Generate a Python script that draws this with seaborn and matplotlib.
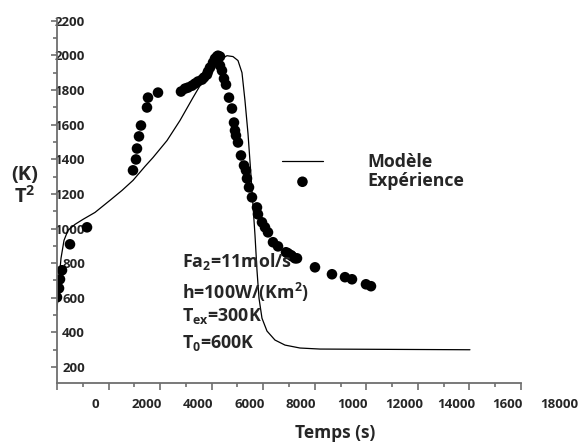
import numpy as np
import pandas as pd
import matplotlib
matplotlib.use("Agg")
import matplotlib.pyplot as plt
import matplotlib.transforms as mtransforms
from matplotlib.ticker import MultipleLocator
import seaborn as sns

# ---------------- data ----------------
model_t = [0, 78, 155, 272, 427, 698, 1009, 1474, 2056, 2521, 2948, 3414, 3724,
           4267, 4771, 5275, 5547, 6051, 6323, 6594, 6827, 7021, 7176, 7292,
           7409, 7525, 7603, 7681, 7758, 7836, 7952, 8146, 8456, 8844, 9426,
           10202, 16020]
model_T = [529, 701, 828, 932, 990, 1024, 1053, 1093, 1163, 1220, 1278, 1359, 1410,
           1508, 1624, 1756, 1825, 1929, 1975, 1998, 1993, 1970, 1900, 1739,
           1549, 1307, 1134, 961, 759, 598, 482, 408, 356, 327, 310,
           304, 300]

exp_t = [0, 78, 116, 194, 504, 1164, 2948, 3064, 3103, 3181, 3258, 3491, 3530, 3918,
         4810, 4965, 5082, 5237, 5353, 5469, 5625, 5702, 5819, 5857, 5935, 6051,
         6129, 6206, 6245, 6323, 6323, 6400, 6478, 6556, 6672, 6788, 6866, 6905,
         6943, 7021, 7137, 7254, 7331, 7370, 7448, 7564, 7758, 7797, 7952, 8068,
         8185, 8379, 8573, 8883, 8961, 9077, 9116, 9232, 9310, 10008, 10667,
         11172, 11443, 11986, 12180]
exp_T = [603, 655, 707, 759, 909, 1007, 1336, 1399, 1462, 1532, 1595, 1699, 1756, 1785,
         1791, 1808, 1814, 1825, 1837, 1849, 1860, 1872, 1889, 1906, 1929, 1958,
         1981, 1993, 1998, 1993, 1941, 1912, 1866, 1831, 1756, 1693, 1612, 1566,
         1537, 1497, 1422, 1364, 1336, 1289, 1238, 1180, 1122, 1082, 1036, 1007,
         978, 921, 897, 863, 857, 846, 840, 828, 828, 776, 736,
         719, 707, 678, 667]

x_ticks = [0, 2000, 4000, 6000, 8000, 10000, 12000, 14000, 16000, 18000]
x_tick_labels = ["0", "2000", "4000", "6000", "8000", "1000", "12000", "14000", "1600", "18000"]
y_ticks = [200, 400, 600, 800, 1000, 1200, 1400, 1600, 1800, 2000, 2200]

df_model = pd.DataFrame({"t": model_t, "T": model_T})
df_exp = pd.DataFrame({"t": exp_t, "T": exp_T})

# ---------------- style ----------------
sns.set_style("white")
FONT = "Open Sans"
plt.rcParams["font.family"] = [FONT, "DejaVu Sans"]
plt.rcParams["font.weight"] = "bold"
plt.rcParams["mathtext.fontset"] = "custom"
plt.rcParams["mathtext.rm"] = FONT + ":bold"
plt.rcParams["mathtext.it"] = FONT + ":bold"
plt.rcParams["mathtext.bf"] = FONT + ":bold"

DPI = 100
fig = plt.figure(figsize=(5.82, 4.44), dpi=DPI)
ax = fig.add_axes([57 / 582, 1 - 383 / 444, 464 / 582, 364 / 444])

sns.lineplot(data=df_model, x="t", y="T", sort=False, color="black", lw=0.9,
             ax=ax, label="Modèle")
sns.scatterplot(data=df_exp, x="t", y="T", color="black", s=58, edgecolor="none",
                ax=ax, label="Expérience")

ax.set_xlim(0, 18000)
ax.set_ylim(108, 2210)

for side in ["top", "right"]:
    ax.spines[side].set_visible(False)
for side in ["left", "bottom"]:
    ax.spines[side].set_color("#6e6e6e")
    ax.spines[side].set_linewidth(1.3)

ax.set_xticks(x_ticks)
ax.set_xticklabels(x_tick_labels)
ax.set_yticks(y_ticks)
ax.xaxis.set_minor_locator(MultipleLocator(1000))
ax.yaxis.set_minor_locator(MultipleLocator(100))

ax.tick_params(axis="x", which="major", direction="out", length=5, width=1.2,
               color="#6e6e6e", labelsize=9.5, pad=5.5, bottom=True)
ax.tick_params(axis="x", which="minor", direction="out", length=3, width=1.2,
               color="#6e6e6e", bottom=True)
ax.tick_params(axis="y", which="major", direction="out", length=4.3, width=1.2,
               color="#6e6e6e", labelsize=9.5, pad=-24.5, left=True)
ax.tick_params(axis="y", which="minor", direction="out", length=3, width=1.2,
               color="#6e6e6e", left=True)

for lab in ax.get_xticklabels():
    lab.set_fontweight("bold")
for lab in ax.get_yticklabels():
    lab.set_fontweight("bold")

# shift x tick labels to the right like the reference
offset = mtransforms.ScaledTranslation(38 / DPI, 0, fig.dpi_scale_trans)
for tick in ax.xaxis.get_major_ticks():
    tick.label1.set_transform(tick.label1.get_transform() + offset)

ax.set_xlabel("Temps (s)", fontsize=12.5, fontweight="bold", va="center")
ax.xaxis.set_label_coords((335 - 57) / 464, (383 - 433) / 364)
ax.set_ylabel("(K)\nT$^2$", fontsize=14.5, fontweight="bold", rotation=0,
              va="center", ha="center", linespacing=1.05)
ax.yaxis.set_label_coords((25 - 57) / 464, (383 - 186) / 364)

leg = ax.legend(loc="upper left", bbox_to_anchor=((282 - 57) / 464, (383 - 153) / 364),
                frameon=False, borderaxespad=0, borderpad=0, fontsize=12.8,
                handlelength=2.3, handletextpad=2.5, labelspacing=0.08,
                markerscale=1.0)
for t in leg.get_texts():
    t.set_fontweight("bold")

ann = ["Fa$_2$=11mol/s", "h=100W/(Km$^2$)", "T$_{ex}$=300K", "T$_0$=600K"]
ann_y = [0.3195, 0.2308, 0.1712, 0.0962]
for s, yy in zip(ann, ann_y):
    ax.text((182 - 57) / 464, yy, s, transform=ax.transAxes, fontsize=12.8,
            fontweight="bold", va="baseline", ha="left")

fig.savefig("out.png", dpi=DPI)
